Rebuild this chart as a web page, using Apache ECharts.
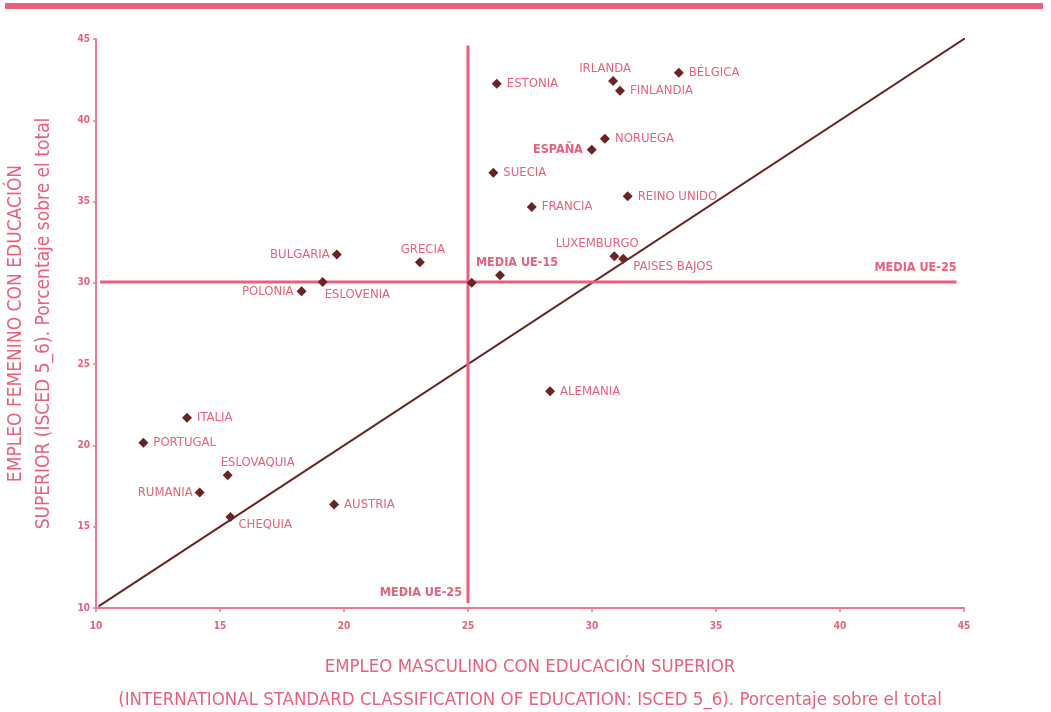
<!DOCTYPE html>
<html>
<head>
<meta charset="utf-8">
<script src="https://cdn.jsdelivr.net/npm/echarts@6/dist/echarts.min.js"></script>
<style>
html,body{margin:0;padding:0;background:#fff;}
#bar{position:absolute;left:5px;top:3px;width:1038px;height:6px;background:#E8617C;}
#chart{position:absolute;left:0;top:0;width:1051px;height:712px;}
</style>
</head>
<body>
<div id="chart"></div>
<div id="bar"></div>
<script>
// ---- data ----
const countries = ['BÉLGICA','IRLANDA','FINLANDIA','ESTONIA','NORUEGA','ESPAÑA','SUECIA','REINO UNIDO','FRANCIA','LUXEMBURGO','PAISES BAJOS','MEDIA UE-15','BULGARIA','ESLOVENIA','POLONIA','GRECIA','ALEMANIA','ITALIA','PORTUGAL','ESLOVAQUIA','RUMANIA','AUSTRIA','CHEQUIA','MEDIA UE-25 (punto)'];
const maleEmp   = [33.50,30.85,31.13,26.16,30.52,29.99,26.02,31.44,27.57,30.90,31.26,26.29,19.71,19.14,18.29,23.06,28.31,13.67,11.91,15.31,14.18,19.60,15.42,25.15];
const femaleEmp = [42.93,42.41,41.82,42.25,38.87,38.19,36.78,35.32,34.67,31.64,31.49,30.47,31.74,30.06,29.48,31.27,23.34,21.70,20.16,18.16,17.11,16.37,15.59,30.00];
const meanEU25  = {male: 25.0, female: 30.06};
const meanHLineX = [10.16, 44.7];
const meanVLineY = [10.3, 44.6];
const diagonal  = [[10.1, 10.1], [45.05, 45.05]];
const xTicks = [10, 15, 20, 25, 30, 35, 40, 45];
const yTicks = [10, 15, 20, 25, 30, 35, 40, 45];
const xName = 'EMPLEO MASCULINO CON EDUCACIÓN SUPERIOR\n(INTERNATIONAL STANDARD CLASSIFICATION OF EDUCATION: ISCED 5_6). Porcentaje sobre el total';
const yName = 'EMPLEO FEMENINO CON EDUCACIÓN\nSUPERIOR (ISCED 5_6). Porcentaje sobre el total';

// ---- label placement (style) ----
const labelLayout = {
  'IRLANDA': {position:'top', distance:1, offset:[-8,0]},
  'ESPAÑA': {position:'left', distance:4, bold:true},
  'LUXEMBURGO': {position:'top', distance:1, offset:[-17,0]},
  'PAISES BAJOS': {position:'right', distance:5, offset:[0,8]},
  'MEDIA UE-15': {position:'top', distance:1, offset:[17,0], bold:true},
  'BULGARIA': {position:'left', distance:2},
  'ESLOVENIA': {position:'right', distance:5, offset:[-8,13]},
  'POLONIA': {position:'left', distance:3},
  'GRECIA': {position:'top', distance:1, offset:[3,0]},
  'ESLOVAQUIA': {position:'top', distance:1, offset:[30,0]},
  'RUMANIA': {position:'left', distance:2},
  'CHEQUIA': {position:'right', distance:3, offset:[0,8]},
  'MEDIA UE-25 (punto)': {hide:true}
};

const PINK = '#E9607C';
const LINEPINK = '#E9607C';
const AXISPINK = '#EE7890';
const BROWN = '#6B2424';
const FONT = '"DejaVu Sans Condensed", "Liberation Sans Narrow", sans-serif';

const scatterData = countries.map((c, i) => {
  const l = labelLayout[c] || {position:'right', distance:5};
  return {
    name: c,
    value: [maleEmp[i], femaleEmp[i]],
    label: {
      show: !l.hide,
      position: l.position,
      distance: l.distance,
      offset: l.offset || [0,0],
      fontWeight: l.bold ? 'bold' : 'normal',
      fontSize: l.bold ? 12.5 : 13
    }
  };
});

const chart = echarts.init(document.getElementById('chart'));
chart.setOption({
  animation: false,
  backgroundColor: '#fff',
  grid: {left: 96, right: 87, top: 39, bottom: 104, containLabel: false, outerBoundsMode: 'none'},
  xAxis: {
    type: 'value', min: xTicks[0], max: xTicks[xTicks.length-1], interval: 5,
    name: xName, nameLocation: 'middle', nameGap: 43,
    nameTextStyle: {color: PINK, fontFamily: FONT, fontSize: 18.5, lineHeight: 33},
    axisLine: {show: true, onZero: false, lineStyle: {color: AXISPINK, width: 2}},
    axisTick: {show: true, length: 4, lineStyle: {color: AXISPINK, width: 1.5}},
    axisLabel: {color: PINK, fontFamily: FONT, fontSize: 10, fontWeight: 'bold', margin: 13},
    splitLine: {show: false}
  },
  yAxis: {
    type: 'value', min: yTicks[0], max: yTicks[yTicks.length-1], interval: 5,
    name: yName, nameLocation: 'middle', nameGap: 38, nameRotate: 90,
    nameTextStyle: {color: PINK, fontFamily: FONT, fontSize: 19, lineHeight: 28},
    axisLine: {show: true, onZero: false, lineStyle: {color: AXISPINK, width: 2}},
    axisTick: {show: true, length: 3, lineStyle: {color: AXISPINK, width: 1.5}},
    axisLabel: {color: PINK, fontFamily: FONT, fontSize: 10, fontWeight: 'bold', margin: 6},
    splitLine: {show: false}
  },
  series: [
    {
      type: 'line', data: diagonal, symbol: 'none', z: 1,
      lineStyle: {color: BROWN, width: 2}, silent: true
    },
    {
      type: 'line', z: 2, symbol: 'circle', symbolSize: 0, showSymbol: true,
      lineStyle: {color: LINEPINK, width: 3},
      data: [
        {value: [meanHLineX[0], meanEU25.female]},
        {value: [meanHLineX[1], meanEU25.female],
         label: {show: true, formatter: 'MEDIA UE-25', position: 'left', distance: 0, offset: [0,-14],
                 color: PINK, fontFamily: FONT, fontSize: 12.5, fontWeight: 'bold'}}
      ]
    },
    {
      type: 'line', z: 2, symbol: 'circle', symbolSize: 0, showSymbol: true,
      lineStyle: {color: LINEPINK, width: 3},
      data: [
        {value: [meanEU25.male, meanVLineY[0]],
         label: {show: true, formatter: 'MEDIA UE-25', position: 'left', distance: 6, offset: [0,-10],
                 color: PINK, fontFamily: FONT, fontSize: 12.5, fontWeight: 'bold'}},
        {value: [meanEU25.male, meanVLineY[1]]}
      ]
    },
    {
      type: 'scatter', z: 5, symbol: 'diamond', symbolSize: 10,
      itemStyle: {color: BROWN, opacity: 1},
      label: {color: PINK, opacity: 1, fontFamily: FONT, fontSize: 13, formatter: p => p.name},
      data: scatterData
    }
  ]
});
</script>
</body>
</html>
